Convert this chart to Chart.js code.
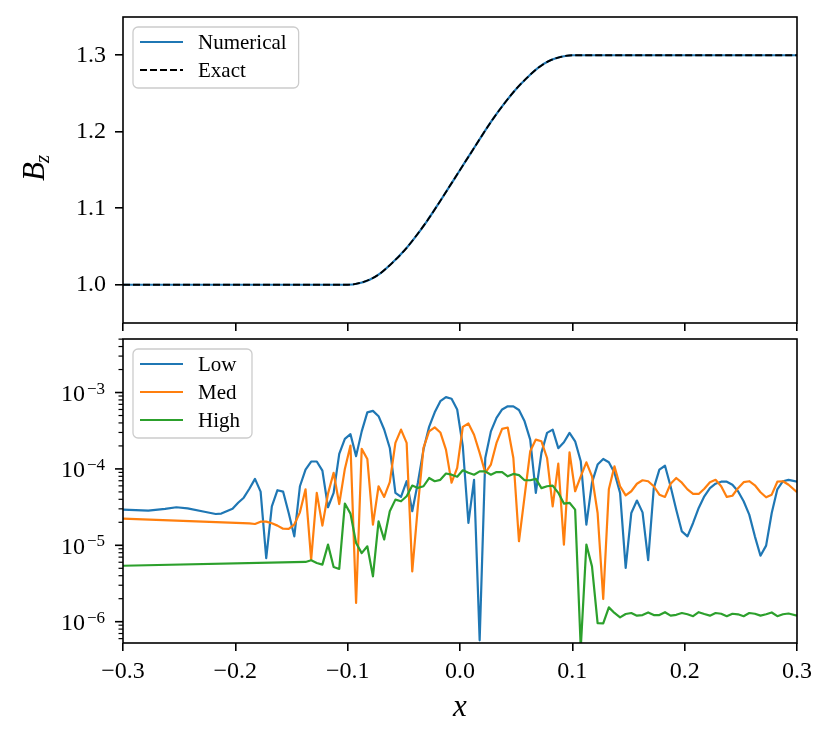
<!DOCTYPE html>
<html>
<head>
<meta charset="utf-8">
<script src="https://cdn.jsdelivr.net/npm/chart.js"></script>
<style>
  html, body { margin: 0; padding: 0; background: #fff; }
  #wrap { position: relative; width: 831px; height: 741px; }
  canvas { position: absolute; left: 0; }
  #top { top: 0; }
  #bottom { top: 333px; }
</style>
</head>
<body>
<div id="wrap">
  <canvas id="top" width="831" height="335"></canvas>
  <canvas id="bottom" width="831" height="408"></canvas>
</div>
<script>
const FONT = "'Liberation Serif', serif";

/* ---- tick positions ---- */
const xTicks = [-0.3, -0.2, -0.1, 0, 0.1, 0.2, 0.3];
const bzTicks = [1.0, 1.1, 1.2, 1.3];
const decadeTicks = [1e-6, 1e-5, 1e-4, 1e-3];

/* ---- top panel: B_z profile ---- */
const bzX = [-0.3, -0.1, -0.09, -0.08, -0.07, -0.06, -0.05, -0.04, -0.03, -0.02, -0.01,
    0, 0.01, 0.02, 0.03, 0.04, 0.05, 0.06, 0.07, 0.08, 0.09, 0.1, 0.3];
const bzNumerical = [1.0, 1.0, 1.002, 1.007, 1.016, 1.029, 1.044, 1.062, 1.082, 1.104, 1.127,
    1.15, 1.173, 1.196, 1.218, 1.238, 1.256, 1.271, 1.284, 1.293, 1.298, 1.3, 1.3];
const bzExact = [1.0, 1.0, 1.002, 1.007, 1.016, 1.029, 1.044, 1.062, 1.082, 1.104, 1.127,
    1.15, 1.173, 1.196, 1.218, 1.238, 1.256, 1.271, 1.284, 1.293, 1.298, 1.3, 1.3];

/* ---- bottom panel: |dB_z| per resolution ---- */
const xGrid = [
    -0.3, -0.2775, -0.2625, -0.2525, -0.2425, -0.2275, -0.2175, -0.2125, -0.2025, -0.1975, -0.1925,
    -0.1875, -0.1825, -0.1775, -0.1725, -0.1675, -0.1625, -0.1575, -0.1525, -0.1475, -0.1425,
    -0.1375, -0.1325, -0.1275, -0.1225, -0.1175, -0.1125, -0.1075, -0.1025, -0.0975, -0.0925,
    -0.0875, -0.0825, -0.0775, -0.0725, -0.0675, -0.0625, -0.0575, -0.0525, -0.0475, -0.0425,
    -0.0375, -0.0325, -0.0275, -0.0225, -0.0175, -0.0125, -0.0075, -0.0025, 0.0025, 0.0075,
    0.0125, 0.0175, 0.0225, 0.0275, 0.0325, 0.0375, 0.0425, 0.0475, 0.0525, 0.0575,
    0.0625, 0.0675, 0.0725, 0.0775, 0.0825, 0.0875, 0.0925, 0.0975, 0.1025, 0.1075,
    0.1125, 0.1175, 0.1225, 0.1275, 0.1325, 0.1375, 0.1425, 0.1475, 0.1525, 0.1575,
    0.1625, 0.1675, 0.1725, 0.1775, 0.1825, 0.1875, 0.1925, 0.1975, 0.2025, 0.2075,
    0.2125, 0.2175, 0.2225, 0.2275, 0.2325, 0.2375, 0.2425, 0.2475, 0.2525, 0.2575,
    0.2625, 0.2675, 0.2725, 0.2775, 0.2825, 0.2875, 0.2925, 0.3,
];
const errLow = [
    2.93e-5, 2.84e-5, 3.0e-5, 3.15e-5, 3.05e-5, 2.75e-5, 2.57e-5, 2.6e-5, 3.0e-5, 3.6e-5, 4.2e-5,
    5.5e-5, 7.4e-5, 5.05e-5, 6.8e-6, 3.24e-5, 5.26e-5, 5.05e-5, 2.65e-5, 1.31e-5, 5.93e-5,
    9.8e-5, 1.25e-4, 1.25e-4, 9.5e-5, 3.15e-5, 4.86e-5, 1.57e-4, 2.47e-4, 2.85e-4, 1.47e-4,
    3.1e-4, 5.5e-4, 5.75e-4, 4.9e-4, 3.28e-4, 1.88e-4, 4.86e-5, 4.3e-5, 6.9e-5, 2.79e-5,
    6.6e-5, 1.79e-4, 3.55e-4, 5.5e-4, 7.7e-4, 8.7e-4, 8.3e-4, 6.0e-4, 1.98e-4, 1.96e-5,
    7.2e-5, 5.7e-7, 1.39e-4, 3.1e-4, 4.65e-4, 6.0e-4, 6.6e-4, 6.6e-4, 5.9e-4, 4.2e-4,
    2.42e-4, 4.86e-5, 1.62e-4, 2.96e-4, 3.27e-4, 1.87e-4, 2.23e-4, 2.96e-4, 2.3e-4, 1.26e-4,
    1.87e-5, 6.6e-5, 1.14e-4, 1.35e-4, 1.22e-4, 8.9e-5, 4.86e-5, 5.05e-6, 2.65e-5, 3.85e-5,
    2.7e-5, 6.4e-6, 5.6e-5, 9.8e-5, 1.1e-4, 5.9e-5, 2.93e-5, 1.52e-5, 1.31e-5, 1.96e-5,
    3.08e-5, 4.38e-5, 5.6e-5, 6.4e-5, 6.8e-5, 6.8e-5, 6.2e-5, 5.1e-5, 3.77e-5, 2.52e-5,
    1.31e-5, 7.3e-6, 9.9e-6, 2.65e-5, 5.4e-5, 6.9e-5, 7.2e-5, 6.8e-5,
];
const errMed = [
    2.23e-5, null, null, null, null, null, null, null, null, null, null,
    1.94e-5, 1.9e-5, 2.04e-5, 2.04e-5, 1.94e-5, 1.81e-5, 1.65e-5, 1.64e-5, 1.87e-5, 2.7e-5,
    5.4e-5, 6.5e-6, 4.86e-5, 1.81e-5, 4.75e-5, 8.9e-5, 3.47e-5, 1.0e-4, 2.02e-4, 1.76e-6,
    1.83e-4, 1.35e-4, 1.87e-5, 5.93e-5, 4.3e-5, 6.7e-5, 2.19e-4, 3.27e-4, 2.19e-4, 4.56e-6,
    3.24e-5, 1.88e-4, 3.1e-4, 3.5e-4, 3.0e-4, 1.79e-4, 6.6e-5, 1.03e-4, 3.55e-4, 3.93e-4,
    2.8e-4, 1.62e-4, 8.9e-5, 1.14e-4, 2.19e-4, 3.34e-4, 3.48e-4, 1.39e-4, 1.13e-5, 4.38e-5,
    1.7e-4, 2.42e-4, 2.3e-4, 1.39e-4, 3.24e-5, 1.17e-4, 1.02e-5, 1.65e-4, 5.1e-5, 8.0e-5,
    1.22e-4, 8.0e-5, 2.65e-5, 1.98e-6, 5.4e-5, 1.08e-4, 5.93e-5, 4.5e-5, 5.1e-5, 6.4e-5,
    7.1e-5, 6.9e-5, 5.93e-5, 4.6e-5, 4.3e-5, 6.4e-5, 7.6e-5, 6.6e-5, 5.4e-5, 4.7e-5,
    4.7e-5, 5.5e-5, 6.7e-5, 7.2e-5, 5.93e-5, 4.3e-5, 4.45e-5, 5.6e-5, 6.7e-5, 6.9e-5,
    6.1e-5, 4.95e-5, 4.25e-5, 4.6e-5, 6.8e-5, 6.9e-5, 6.2e-5, 4.95e-5,
];
const errHigh = [
    5.4e-6, null, null, null, null, null, null, null, null, null, null,
    null, null, null, null, null, null, null, null, null, null,
    6.05e-6, 6.36e-6, 5.87e-6, 5.58e-6, 1.02e-5, 5.2e-6, 4.9e-6, 3.52e-5, 2.6e-5, 1.07e-5,
    7.9e-6, 9.7e-6, 3.93e-6, 2.06e-5, 1.19e-5, 2.79e-5, 3.96e-5, 3.77e-5, 4.38e-5, 6.05e-5,
    5.64e-5, 5.93e-5, 7.6e-5, 6.9e-5, 7.2e-5, 8.7e-5, 8.4e-5, 7.9e-5, 9.6e-5, 8.9e-5,
    8.4e-5, 9.3e-5, 9.3e-5, 8.4e-5, 9.1e-5, 9.1e-5, 8.0e-5, 8.6e-5, 8.3e-5, 7.1e-5,
    7.1e-5, 7.4e-5, 5.6e-5, 5.93e-5, 6.05e-5, 4.86e-5, 3.52e-5, 3.6e-5, 2.93e-5, 4.5e-7,
    1.02e-5, 5.3e-6, 9.6e-7, 9.5e-7, 1.54e-6, 1.3e-6, 1.14e-6, 1.26e-6, 1.3e-6, 1.2e-6,
    1.22e-6, 1.32e-6, 1.22e-6, 1.22e-6, 1.33e-6, 1.2e-6, 1.23e-6, 1.3e-6, 1.25e-6, 1.18e-6,
    1.33e-6, 1.26e-6, 1.2e-6, 1.3e-6, 1.27e-6, 1.18e-6, 1.27e-6, 1.25e-6, 1.18e-6, 1.3e-6,
    1.27e-6, 1.2e-6, 1.25e-6, 1.32e-6, 1.18e-6, 1.25e-6, 1.28e-6, 1.2e-6,
];

function points(xs, ys) {
    return xs.map((x, i) => ({ x: x, y: ys[i] }));
}

function fmtTick(v) {
    return v.toFixed(1).replace('-', '\u2212');
}

function fontOf(p) {
    return (p.italic ? 'italic ' : '') + p.size + 'px ' + FONT;
}

// text with subscript pieces, centred on (cx, baseline cy)
function drawRich(ctx, parts, cx, cy, rotate) {
    ctx.save();
    ctx.translate(cx, cy);
    if (rotate) ctx.rotate(-Math.PI / 2);
    ctx.fillStyle = '#000';
    ctx.textAlign = 'left';
    ctx.textBaseline = 'alphabetic';
    const widths = parts.map((p) => {
        ctx.font = fontOf(p);
        return ctx.measureText(p.t).width + (p.gap || 0);
    });
    let x = -widths.reduce((s, w) => s + w, 0) / 2;
    parts.forEach((p, i) => {
        ctx.font = fontOf(p);
        ctx.fillText(p.t, x, p.dy || 0);
        x += widths[i];
    });
    ctx.restore();
}

function drawLegend(chart) {
    const ctx = chart.ctx;
    const a = chart.chartArea;
    const sets = chart.data.datasets;
    ctx.font = '21px ' + FONT;
    const textW = Math.max(...sets.map((d) => ctx.measureText(d.label).width));
    const bx = a.left + 10;
    const by = a.top + 10;
    const bw = 65 + textW + 12;
    const bh = 33 + 28 * (sets.length - 1);
    ctx.beginPath();
    ctx.roundRect(bx, by, bw, bh, 5);
    ctx.fillStyle = 'rgba(255,255,255,0.8)';
    ctx.fill();
    ctx.strokeStyle = '#cccccc';
    ctx.lineWidth = 1.3;
    ctx.stroke();
    sets.forEach((d, i) => {
        const y = by + 15 + 28 * i;
        ctx.beginPath();
        ctx.setLineDash(d.borderDash || []);
        ctx.strokeStyle = d.borderColor;
        ctx.lineWidth = d.borderWidth;
        ctx.moveTo(bx + 7, y);
        ctx.lineTo(bx + 50, y);
        ctx.stroke();
        ctx.setLineDash([]);
        ctx.fillStyle = '#000';
        ctx.textAlign = 'left';
        ctx.textBaseline = 'middle';
        ctx.fillText(d.label, bx + 65, y + 1);
    });
}

function drawLogAxis(chart) {
    const ctx = chart.ctx;
    const s = chart.scales.y;
    const left = chart.chartArea.left;
    ctx.strokeStyle = '#000';
    for (let e = -7; e <= -2; e++) {
        for (let k = 1; k <= 9; k++) {
            const v = k * Math.pow(10, e);
            if (v < s.min || v > s.max) continue;
            const y = s.getPixelForValue(v);
            ctx.lineWidth = k === 1 ? 1.6 : 1.2;
            ctx.beginPath();
            ctx.moveTo(left, y);
            ctx.lineTo(left - (k === 1 ? 8 : 4.5), y);
            ctx.stroke();
        }
    }
    ctx.fillStyle = '#000';
    ctx.textAlign = 'right';
    ctx.textBaseline = 'alphabetic';
    decadeTicks.forEach((v) => {
        const y = s.getPixelForValue(v);
        const sup = '\u2212' + Math.abs(Math.round(Math.log10(v)));
        ctx.font = '17px ' + FONT;
        const sw = ctx.measureText(sup).width;
        ctx.fillText(sup, 105, y + 1);
        ctx.font = '24px ' + FONT;
        ctx.fillText('10', 105 - sw - 2, y + 8.5);
    });
}

function framePlugin(cfg) {
    return {
        id: 'frame',
        afterDraw(chart) {
            const ctx = chart.ctx;
            const a = chart.chartArea;
            ctx.save();
            if (cfg.logAxis) drawLogAxis(chart);
            ctx.strokeStyle = '#000';
            ctx.lineWidth = 1.6;
            ctx.strokeRect(a.left, a.top, a.right - a.left, a.bottom - a.top);
            drawLegend(chart);
            cfg.titles.forEach((t) => drawRich(ctx, t.parts, t.x, t.y, t.rotate));
            ctx.restore();
        },
    };
}

const tickFont = { family: FONT, size: 24 };
const tickGrid = { drawOnChartArea: false, tickLength: 8, color: '#000', lineWidth: 1.6 };

function xScale(showLabels, height) {
    return {
        type: 'linear',
        min: -0.3,
        max: 0.3,
        afterBuildTicks: (s) => { s.ticks = xTicks.map((v) => ({ value: v })); },
        afterFit: (s) => {
            s.height = height;
            s.paddingLeft = 0;
            s.paddingRight = 0;
        },
        ticks: { display: showLabels, font: tickFont, color: '#000', padding: 6, maxRotation: 0, callback: fmtTick },
        grid: tickGrid,
        border: { display: false },
    };
}

new Chart(document.getElementById('top'), {
    type: 'line',
    data: {
        datasets: [
            {
                label: 'Numerical',
                data: points(bzX, bzNumerical),
                borderColor: '#1f77b4',
                borderWidth: 2.2,
                pointRadius: 0,
                cubicInterpolationMode: 'monotone',
                order: 2,
            },
            {
                label: 'Exact',
                data: points(bzX, bzExact),
                borderColor: '#000000',
                borderWidth: 1.8,
                borderDash: [7, 3],
                pointRadius: 0,
                cubicInterpolationMode: 'monotone',
                order: 1,
            },
        ],
    },
    options: {
        responsive: false,
        animation: false,
        layout: { padding: { top: 17, right: 34, left: 0, bottom: 0 } },
        plugins: { legend: { display: false }, tooltip: { enabled: false } },
        scales: {
            x: xScale(false, 12),
            y: {
                type: 'linear',
                min: 0.95,
                max: 1.35,
                afterBuildTicks: (s) => { s.ticks = bzTicks.map((v) => ({ value: v })); },
                afterFit: (s) => {
                    s.width = 123;
                    s.paddingTop = 0;
                    s.paddingBottom = 0;
                },
                ticks: { font: tickFont, color: '#000', padding: 9, callback: fmtTick },
                grid: tickGrid,
                border: { display: false },
            },
        },
    },
    plugins: [framePlugin({
        logAxis: false,
        titles: [{
            x: 44, y: 168, rotate: true,
            parts: [{ t: 'B', italic: true, size: 31, gap: -1 }, { t: 'z', italic: true, size: 21, dy: 5 }],
        }],
    })],
});

const lineStyle = { borderWidth: 2.2, pointRadius: 0, tension: 0, spanGaps: true, borderJoinStyle: 'round' };

new Chart(document.getElementById('bottom'), {
    type: 'line',
    data: {
        datasets: [
            { label: 'Low', data: points(xGrid, errLow), borderColor: '#1f77b4', order: 3, ...lineStyle },
            { label: 'Med', data: points(xGrid, errMed), borderColor: '#ff7f0e', order: 2, ...lineStyle },
            { label: 'High', data: points(xGrid, errHigh), borderColor: '#2ca02c', order: 1, ...lineStyle },
        ],
    },
    options: {
        responsive: false,
        animation: false,
        layout: { padding: { top: 6, right: 34, left: 0, bottom: 0 } },
        plugins: { legend: { display: false }, tooltip: { enabled: false } },
        scales: {
            x: xScale(true, 98),
            y: {
                type: 'logarithmic',
                min: 5.26e-7,
                max: 5.02e-3,
                afterFit: (s) => {
                    s.width = 123;
                    s.paddingTop = 0;
                    s.paddingBottom = 0;
                },
                ticks: { display: false },
                grid: { display: false },
                border: { display: false },
            },
        },
    },
    plugins: [framePlugin({
        logAxis: true,
        titles: [
            {
                x: 39, y: 490, rotate: true,
                parts: [
                    { t: '|', size: 31, gap: 1 },
                    { t: '\u0394', size: 31 },
                    { t: 'B', italic: true, size: 31, gap: -1 },
                    { t: 'z', italic: true, size: 21, dy: 5, gap: 2 },
                    { t: '|', size: 31 },
                ],
            },
            { x: 460, y: 383, rotate: false, parts: [{ t: 'x', italic: true, size: 31 }] },
        ],
    })],
});
</script>
</body>
</html>
